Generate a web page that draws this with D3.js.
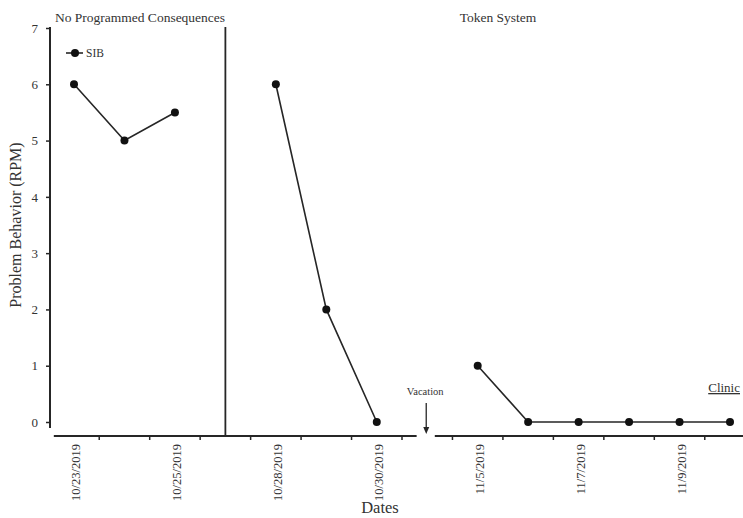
<!DOCTYPE html>
<html><head><meta charset="utf-8">
<script src="https://cdn.jsdelivr.net/npm/d3@7"></script>
<style>body{margin:0;background:#fff}svg{display:block}svg text{font-family:"Liberation Serif","Times New Roman",serif !important}</style>
</head><body><svg id="c" width="743" height="518"></svg>
<script>
const slots = ["10/23/2019","10/24/2019","10/25/2019","10/26/2019","10/28/2019","10/29/2019","10/30/2019","vacation","11/5/2019","11/6/2019","11/7/2019","11/8/2019","11/9/2019","11/10/2019"];
const tickLabels = ["10/23/2019","10/25/2019","10/28/2019","10/30/2019","11/5/2019","11/7/2019","11/9/2019"];
const phase1 = [{d:"10/23/2019",v:6},{d:"10/24/2019",v:5},{d:"10/25/2019",v:5.5}];
const phase2 = [{d:"10/28/2019",v:6},{d:"10/29/2019",v:2},{d:"10/30/2019",v:0}];
const phase3 = [{d:"11/5/2019",v:1},{d:"11/6/2019",v:0},{d:"11/7/2019",v:0},{d:"11/8/2019",v:0},{d:"11/9/2019",v:0},{d:"11/10/2019",v:0}];
const yTicks = [0,1,2,3,4,5,6,7];
const phaseTitles = ["No Programmed Consequences","Token System"];

const svg = d3.select("#c");
const ink = "#262626";
const txt = "#333";
const FF = "Liberation Serif";
const x = d3.scalePoint().domain(slots).range([74,730]);
const step = x.step();
const y = d3.scaleLinear().domain([0,7]).range([422,28]);
const axisY = 436;

// Y axis
const ya = svg.append("g").attr("transform","translate(50,0)")
  .call(d3.axisLeft(y).tickValues(yTicks).tickSize(4).tickPadding(8).tickFormat(d3.format("d")));
ya.attr("font-family",FF);
ya.select(".domain").remove();
ya.selectAll("line").attr("stroke",ink).attr("stroke-width",1.5);
ya.selectAll("text").attr("font-size",13).attr("fill",txt).attr("font-family",FF);
svg.append("line").attr("x1",50).attr("x2",50).attr("y1",y(7)-1).attr("y2",y(0)+6).attr("stroke",ink).attr("stroke-width",2);

// X axis segments
const segs = [[x(slots[0])-step*0.4, x(slots[6])+step*0.79],[x(slots[8])-step*0.85, x(slots[13])+step*0.3]];
segs.forEach(s=>svg.append("line").attr("x1",s[0]).attr("x2",s[1]).attr("y1",axisY).attr("y2",axisY).attr("stroke",ink).attr("stroke-width",2));
const tickPos = slots.slice(0,-1).map(s=>x(s)+step/2);
svg.selectAll(".xt").data(tickPos).join("line").attr("class","xt")
  .attr("x1",d=>d).attr("x2",d=>d).attr("y1",axisY).attr("y2",axisY+4).attr("stroke",ink).attr("stroke-width",1.5);
svg.selectAll(".xl").data(tickLabels).join("text").attr("class","xl")
  .attr("transform",d=>`translate(${x(d)+2},${axisY+8}) rotate(-90)`)
  .attr("text-anchor","end").attr("dy","0.35em").attr("font-size",12.5).attr("font-family",FF).attr("fill",txt).text(d=>d);

// Phase line
svg.append("line").attr("x1",x(slots[3])).attr("x2",x(slots[3])).attr("y1",27).attr("y2",axisY).attr("stroke",ink).attr("stroke-width",1.8);

// Data
const line = d3.line().x(d=>x(d.d)).y(d=>y(d.v));
[phase1,phase2,phase3].forEach(p=>{
  svg.append("path").datum(p).attr("d",line).attr("fill","none").attr("stroke",ink).attr("stroke-width",1.6);
  svg.selectAll(null).data(p).join("circle").attr("cx",d=>x(d.d)).attr("cy",d=>y(d.v)).attr("r",4).attr("fill","#111");
});

// Legend
svg.append("line").attr("x1",66).attr("x2",83).attr("y1",53).attr("y2",53).attr("stroke",ink).attr("stroke-width",1.6);
svg.append("circle").attr("cx",75).attr("cy",53).attr("r",4).attr("fill","#111");
svg.append("text").attr("x",86).attr("y",57).attr("font-size",11.5).attr("font-family",FF).attr("fill",txt).text("SIB");

// Titles
svg.append("text").attr("x",140).attr("y",22).attr("text-anchor","middle").attr("font-size",13.5).attr("font-family",FF).attr("fill",txt).text(phaseTitles[0]);
svg.append("text").attr("x",498).attr("y",22).attr("text-anchor","middle").attr("font-size",13.5).attr("font-family",FF).attr("fill",txt).text(phaseTitles[1]);

// Vacation
const vx = x(slots[7]);
svg.append("text").attr("x",vx-2).attr("y",395).attr("text-anchor","middle").attr("font-size",10.5).attr("font-family",FF).attr("fill",txt).text("Vacation");
svg.append("line").attr("x1",vx-1).attr("x2",vx-1).attr("y1",403).attr("y2",428).attr("stroke",ink).attr("stroke-width",1.3);
svg.append("path").attr("d",`M${vx-4},427 L${vx+2},427 L${vx-1},434 Z`).attr("fill",ink);

// Clinic
svg.append("text").attr("x",740).attr("y",392).attr("text-anchor","end").attr("font-size",13).attr("font-family",FF).attr("fill",txt).attr("text-decoration","underline").text("Clinic");

// Axis titles
svg.append("text").attr("transform","translate(21,225) rotate(-90)").attr("text-anchor","middle").attr("font-size",16).attr("font-family",FF).attr("fill",txt).text("Problem Behavior (RPM)");
svg.append("text").attr("x",380).attr("y",513).attr("text-anchor","middle").attr("font-size",16.5).attr("font-family",FF).attr("fill",txt).text("Dates");
</script></body></html>
